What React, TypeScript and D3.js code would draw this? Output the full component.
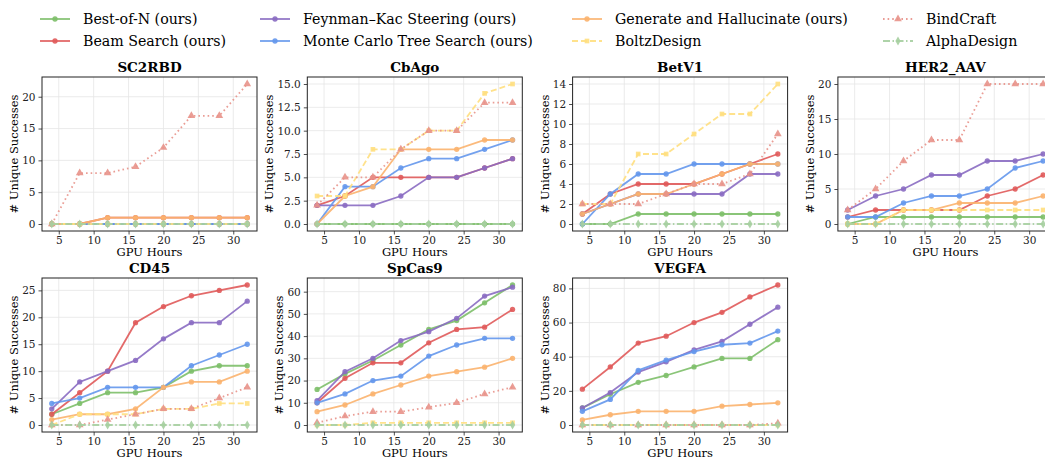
import React, { useEffect, useRef } from 'react';
import * as d3 from 'd3';

const hours = [4, 8, 12, 16, 20, 24, 28, 32];
const targets = ['SC2RBD', 'CbAgo', 'BetV1', 'HER2_AAV', 'CD45', 'SpCas9', 'VEGFA'];
const yTickSteps = [5, 2.5, 2, 5, 5, 10, 20];

// one row per target, same order as `targets`
const bestOfN = [
  [0, 0, 0, 0, 0, 0, 0, 0],
  [0, 0, 0, 0, 0, 0, 0, 0],
  [0, 0, 1, 1, 1, 1, 1, 1],
  [0, 1, 1, 1, 1, 1, 1, 1],
  [2, 4, 6, 6, 7, 10, 11, 11],
  [16, 23, 29, 36, 43, 47, 55, 63],
  [10, 18, 25, 29, 34, 39, 39, 50],
];
const beamSearch = [
  [0, 0, 1, 1, 1, 1, 1, 1],
  [2, 3, 5, 5, 5, 5, 6, 7],
  [1, 3, 4, 4, 4, 5, 6, 7],
  [1, 2, 2, 2, 2, 4, 5, 7],
  [2, 6, 10, 19, 22, 24, 25, 26],
  [10, 21, 28, 28, 37, 43, 44, 52],
  [21, 34, 48, 52, 60, 66, 75, 82],
];
const feynmanKac = [
  [0, 0, 0, 0, 0, 0, 0, 0],
  [2, 2, 2, 3, 5, 5, 6, 7],
  [1, 2, 3, 3, 3, 3, 5, 5],
  [2, 4, 5, 7, 7, 9, 9, 10],
  [3, 8, 10, 12, 16, 19, 19, 23],
  [11, 24, 30, 38, 42, 48, 58, 62],
  [10, 19, 31, 37, 44, 49, 59, 69],
];
const mcts = [
  [0, 0, 0, 0, 0, 0, 0, 0],
  [0, 4, 4, 6, 7, 7, 8, 9],
  [0, 3, 5, 5, 6, 6, 6, 6],
  [1, 1, 3, 4, 4, 5, 8, 9],
  [4, 5, 7, 7, 7, 11, 13, 15],
  [10, 14, 20, 22, 31, 36, 39, 39],
  [8, 15, 32, 38, 43, 47, 48, 55],
];
const genHalluc = [
  [0, 0, 1, 1, 1, 1, 1, 1],
  [0, 3, 4, 8, 8, 8, 9, 9],
  [1, 2, 3, 3, 4, 5, 6, 6],
  [0, 0, 2, 2, 3, 3, 3, 4],
  [1, 2, 2, 3, 7, 8, 8, 10],
  [6, 9, 14, 18, 22, 24, 26, 30],
  [3, 6, 8, 8, 8, 11, 12, 13],
];
const boltzDesign = [
  [0, 0, 0, 0, 0, 0, 0, 0],
  [3, 3, 8, 8, 10, 10, 14, 15],
  [2, 2, 7, 7, 9, 11, 11, 14],
  [0, 0, 2, 2, 2, 2, 2, 2],
  [0, 2, 2, 2, 3, 3, 4, 4],
  [0, 0, 1, 1, 1, 1, 1, 1],
  [0, 0, 0, 0, 0, 0, 0, 0],
];
const bindCraft = [
  [0, 8, 8, 9, 12, 17, 17, 22],
  [2, 5, 5, 8, 10, 10, 13, 13],
  [2, 2, 2, 3, 4, 4, 5, 9],
  [2, 5, 9, 12, 12, 20, 20, 20],
  [0, 0, 1, 2, 3, 3, 5, 7],
  [1, 4, 6, 6, 8, 10, 14, 17],
  [0, 0, 0, 0, 0, 0, 0, 1],
];
const alphaDesign = [
  [0, 0, 0, 0, 0, 0, 0, 0],
  [0, 0, 0, 0, 0, 0, 0, 0],
  [0, 0, 0, 0, 0, 0, 0, 0],
  [0, 0, 0, 0, 0, 0, 0, 0],
  [0, 0, 0, 0, 0, 0, 0, 0],
  [0, 0, 0, 0, 0, 0, 0, 0],
  [0, 0, 0, 0, 0, 0, 0, 0],
];

const series = [
  { name: 'Best-of-N (ours)', data: bestOfN, color: '#7dbf69', dash: null, symbol: d3.symbolCircle, size: 22 },
  { name: 'Beam Search (ours)', data: beamSearch, color: '#e05a5a', dash: null, symbol: d3.symbolCircle, size: 22 },
  { name: 'Feynman\u2013Kac Steering (ours)', data: feynmanKac, color: '#8a6cc2', dash: null, symbol: d3.symbolCircle, size: 22 },
  { name: 'Monte Carlo Tree Search (ours)', data: mcts, color: '#6497ec', dash: null, symbol: d3.symbolCircle, size: 22 },
  { name: 'Generate and Hallucinate (ours)', data: genHalluc, color: '#fbb36e', dash: null, symbol: d3.symbolCircle, size: 22 },
  { name: 'BoltzDesign', data: boltzDesign, color: '#ffdf80', dash: '6,3', symbol: d3.symbolSquare, size: 22 },
  { name: 'BindCraft', data: bindCraft, color: '#e8928a', dash: '1.6,3', symbol: d3.symbolTriangle, size: 26 },
  { name: 'AlphaDesign', data: alphaDesign, color: '#a6cfa0', dash: '7,2.5,1.5,2.5', symbol: d3.symbolDiamond, size: 24 },
];

const font = 'DejaVu Serif';

const App = () => {
  const svgRef = useRef(null);

  useEffect(() => {
    const svg = d3.select(svgRef.current);
    svg.selectAll('*').remove();

    const pw = 215;
    const ph = 154;
    const colStep = 265.3;
    const rowTops = [77, 278];

    targets.forEach((t, i) => {
      const col = i % 4;
      const row = Math.floor(i / 4);
      const left = 42 + col * colStep;
      const top = rowTops[row];

      const ymax = d3.max(series, (s) => d3.max(s.data[i])) as number;
      const x = d3.scaleLinear().domain([2.6, 33.4]).range([left, left + pw]);
      const y = d3.scaleLinear().domain([-ymax * 0.05, ymax * 1.05]).range([top + ph, top]);

      const step = yTickSteps[i];
      const yTicks = d3.range(0, ymax + 1e-9, step);
      const xTicks = [5, 10, 15, 20, 25, 30];
      const fmt = step % 1 !== 0 ? d3.format('.1f') : d3.format('d');

      const g = svg.append('g');

      // grid
      g.selectAll('.gx').data(xTicks).join('line')
        .attr('x1', (d) => x(d)).attr('x2', (d) => x(d))
        .attr('y1', top).attr('y2', top + ph)
        .attr('stroke', '#e6e6e6').attr('stroke-width', 0.8);
      g.selectAll('.gy').data(yTicks).join('line')
        .attr('x1', left).attr('x2', left + pw)
        .attr('y1', (d) => y(d)).attr('y2', (d) => y(d))
        .attr('stroke', '#e6e6e6').attr('stroke-width', 0.8);

      // axes
      const xa = g.append('g')
        .attr('transform', `translate(0,${top + ph})`)
        .call(d3.axisBottom(x).tickValues(xTicks).tickSize(3.5).tickPadding(2.5));
      const ya = g.append('g')
        .attr('transform', `translate(${left},0)`)
        .call(d3.axisLeft(y).tickValues(yTicks).tickFormat(fmt as any).tickSize(3.5).tickPadding(3));
      [xa, ya].forEach((a) => {
        a.select('.domain').remove();
        a.selectAll('text').attr('font-family', font).attr('font-size', 10.5).attr('fill', '#222');
        a.selectAll('line').attr('stroke', '#222').attr('stroke-width', 0.8);
      });

      // lines and markers
      series.forEach((s) => {
        const pts = hours.map((h, k) => [h, s.data[i][k]]);
        const line = d3.line().x((d) => x(d[0])).y((d) => y(d[1]));
        g.append('path')
          .datum(pts)
          .attr('fill', 'none')
          .attr('stroke', s.color)
          .attr('stroke-width', 1.8)
          .attr('stroke-dasharray', s.dash)
          .attr('opacity', 0.9)
          .attr('d', line as any);
        g.selectAll(null).data(pts).join('path')
          .attr('transform', (d) => `translate(${x(d[0])},${y(d[1])})`)
          .attr('d', d3.symbol().type(s.symbol).size(s.size)() as string)
          .attr('fill', s.color)
          .attr('opacity', 0.9);
      });

      // frame
      g.append('rect')
        .attr('x', left).attr('y', top).attr('width', pw).attr('height', ph)
        .attr('fill', 'none').attr('stroke', '#222').attr('stroke-width', 1);

      // labels
      g.append('text')
        .attr('x', left + pw / 2).attr('y', top - 5)
        .attr('text-anchor', 'middle').attr('font-family', font)
        .attr('font-weight', 'bold').attr('font-size', 13.5)
        .text(t);
      g.append('text')
        .attr('x', left + pw / 2).attr('y', top + ph + 25)
        .attr('text-anchor', 'middle').attr('font-family', font)
        .attr('font-size', 11.5)
        .text('GPU Hours');
      const longest = d3.max(yTicks.map((v) => fmt(v).length)) as number;
      const hasDot = step % 1 !== 0;
      const off = 10 + (longest - (hasDot ? 1 : 0)) * 7 + (hasDot ? 3.5 : 0);
      g.append('text')
        .attr('transform', `translate(${left - off},${top + ph / 2}) rotate(-90)`)
        .attr('text-anchor', 'middle').attr('font-family', font)
        .attr('font-size', 11.5)
        .text('# Unique Successes');
    });

    // legend, 4 columns filled column-wise
    const colX = [40, 260, 572, 883];
    const rowY = [19, 41];
    series.forEach((s, k) => {
      const cx = colX[Math.floor(k / 2)];
      const cy = rowY[k % 2];
      const lg = svg.append('g');
      lg.append('line')
        .attr('x1', cx).attr('x2', cx + 30).attr('y1', cy).attr('y2', cy)
        .attr('stroke', s.color).attr('stroke-width', 1.8)
        .attr('stroke-dasharray', s.dash).attr('opacity', 0.9);
      lg.append('path')
        .attr('transform', `translate(${cx + 15},${cy})`)
        .attr('d', d3.symbol().type(s.symbol).size(s.size)() as string)
        .attr('fill', s.color).attr('opacity', 0.9);
      lg.append('text')
        .attr('x', cx + 43).attr('y', cy)
        .attr('dominant-baseline', 'central')
        .attr('font-family', font).attr('font-size', 14.2)
        .text(s.name);
    });
  }, []);

  return (
    <svg ref={svgRef} width={1045} height={460} style={{ position: 'absolute', left: 0, top: 0, background: '#fff' }}></svg>
  );
};

export default App;
